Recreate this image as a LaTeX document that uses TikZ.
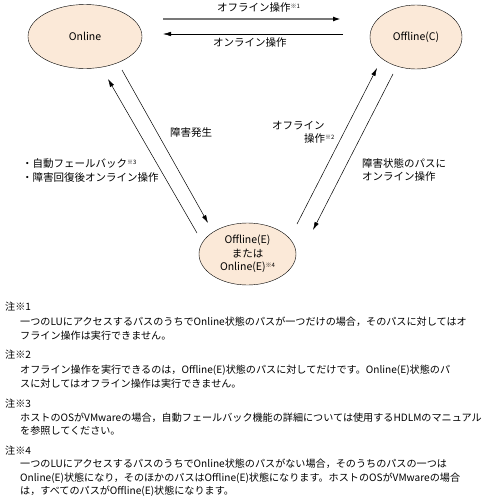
\documentclass[tikz,border=0pt]{standalone}
\usepackage{fontspec}
\setmainfont{Noto Sans CJK JP}
\usepackage{tikz}
\usetikzlibrary{arrows.meta, positioning, shapes.geometric}
\definecolor{statefill}{RGB}{251,233,216}
\definecolor{opgray}{RGB}{120,120,120}
\newcommand{\kome}[1]{\raisebox{0.55ex}{\fontsize{6}{6}\selectfont ※#1}}

\begin{document}
\begin{tikzpicture}[x=1pt, y=-1pt, font=\fontsize{10.5}{13.3}\selectfont,
  state/.style={ellipse, draw, fill=statefill, inner sep=0pt, align=center},
  trans/.style={-{Latex[length=8pt,width=4.5pt]}, line width=0.5pt},
  lbl/.style={anchor=west, inner sep=0pt, align=left},
  note/.style={lbl, font=\fontsize{10.1}{13.3}\selectfont}]
  \useasboundingbox (0,0) rectangle (492,498);

  % States
  \node[state, minimum width=114pt, minimum height=64pt] (online) at (85,36.5) {Online};
  \node[state, minimum width=92pt, minimum height=64pt] (offc) at (416,37) {Offline(C)};
  \node[state, minimum width=97pt, minimum height=62pt] (offe) at (247.5,254) {Offline(E)\\または\\Online(E)\kome{4}};

  % Arrow ends
  \coordinate (offS) at (163,19);  \coordinate (offT) at (341,19);
  \coordinate (onS)  at (343,34);  \coordinate (onT)  at (163,34);
  \coordinate (errS) at (122,70);  \coordinate (errT) at (208,223);
  \coordinate (recS) at (197,233); \coordinate (recT) at (108,79);
  \coordinate (eoS)  at (297,224); \coordinate (eoT)  at (377,68);
  \coordinate (coS)  at (393,74);  \coordinate (coT)  at (313,230);

  % Online <-> Offline(C)
  \draw[-{Latex[length=8pt,width=5pt,black]}, opgray, line width=1.8pt] (offS) -- (offT);
  \draw[trans] (onS) -- (onT);
  \node[lbl] (lblOff) at (217,8) {オフライン操作\kome{1}};
  \node[lbl] (lblOn) at (213,43) {オンライン操作};

  % Online <-> Offline(E)
  \draw[trans] (errS) -- (errT);
  \draw[trans] (recS) -- (recT);
  \node[lbl] (lblErr) at (170,133) {障害発生};
  \node[lbl] (lblRec) at (22,170.5) {・自動フェールバック\kome{3}\\・障害回復後オンライン操作};

  % Offline(E) <-> Offline(C)
  \draw[trans] (eoS) -- (eoT);
  \draw[trans] (coS) -- (coT);
  \node[lbl] (lblEo1) at (272,126) {オフライン};
  \node[lbl] (lblEo2) at (304,139) {操作\kome{2}};
  \node[lbl] (lblCo) at (362,170) {障害状態のパスに\\オンライン操作};

  % Notes
  \node[note] (n1) at (5,307) {注※1};
  \node[note] (n1txt) at (20,328.5) {一つのLUにアクセスするパスのうちでOnline状態のパスが一つだけの場合，そのパスに対してはオ\\フライン操作は実行できません。};
  \node[note] (n2) at (5,355) {注※2};
  \node[note] (n2txt) at (20,376.5) {オフライン操作を実行できるのは，Offline(E)状態のパスに対してだけです。Online(E)状態のパ\\スに対してはオフライン操作は実行できません。};
  \node[note] (n3) at (5,404) {注※3};
  \node[note] (n3txt) at (20,424.5) {ホストのOSがVMwareの場合，自動フェールバック機能の詳細については使用するHDLMのマニュアル\\を参照してください。};
  \node[note] (n4) at (5,451) {注※4};
  \node[note] (n4txt) at (20,478) {一つのLUにアクセスするパスのうちでOnline状態のパスがない場合，そのうちのパスの一つは\\Online(E)状態になり，そのほかのパスはOffline(E)状態になります。ホストのOSがVMwareの場合\\は，すべてのパスがOffline(E)状態になります。};
\end{tikzpicture}
\end{document}
